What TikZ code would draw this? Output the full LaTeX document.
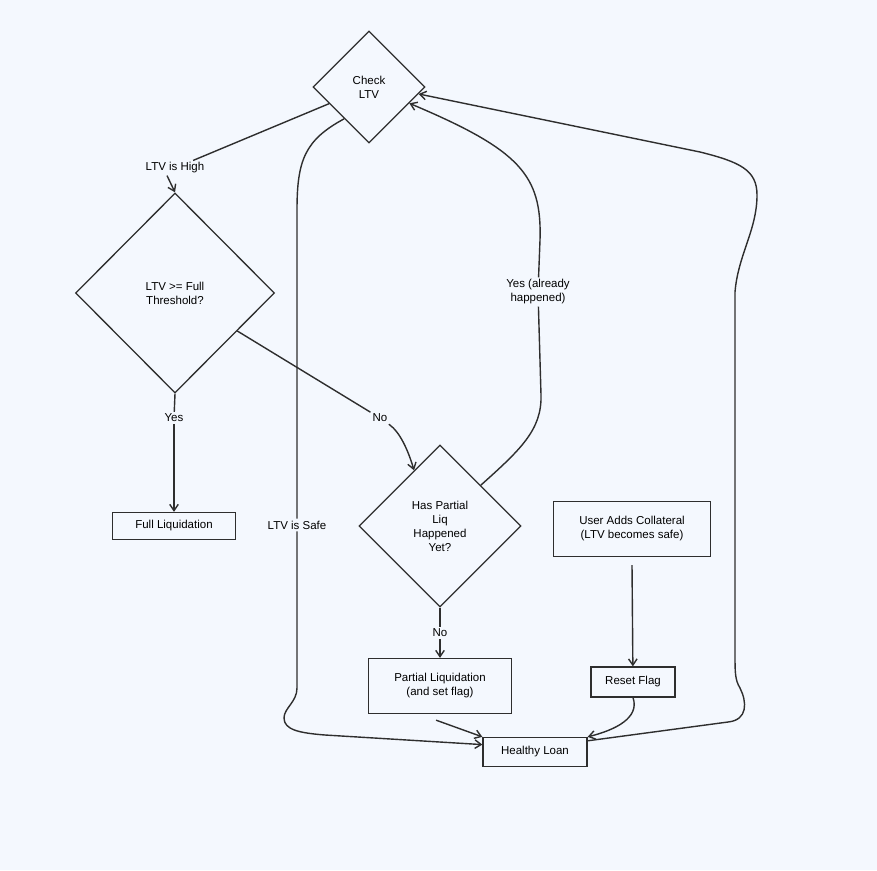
\documentclass[tikz,border=0pt]{standalone}
\usepackage{fontspec}
\setmainfont{Liberation Sans}
\usetikzlibrary{arrows.meta,shapes.geometric}
\definecolor{bgblue}{HTML}{F4F8FE}
\definecolor{ink}{HTML}{2E2E2E}
\tikzset{
  decision/.style={diamond, draw=ink, line width=1.3pt, inner sep=0pt, aspect=1, align=center, font=\fontsize{11.5}{14}\selectfont},
  stepbox/.style={rectangle, draw=ink, line width=1.3pt, inner sep=0pt, align=center, font=\fontsize{11.5}{14}\selectfont},
  lbl/.style={fill=bgblue, inner sep=2pt, align=center, font=\fontsize{11.5}{14}\selectfont},
  link/.style={draw=ink, line width=1.4pt},
  arr/.style={link, -{Straight Barb[length=2.2mm,width=3mm]}}
}
\begin{document}
\begin{tikzpicture}[x=1pt,y=-1pt]
\fill[bgblue] (0,0) rectangle (877,870);
\useasboundingbox (0,0) rectangle (877,870);
\path (369,87) node (check) [decision, minimum width=112pt, minimum height=112pt] {Check\\LTV};
\path (175,293) node (fullq) [decision, minimum width=199pt, minimum height=200pt] {LTV >= Full\\Threshold?};
\path (440,526) node (partq) [decision, minimum width=162pt, minimum height=162pt] {Has Partial\\Liq\\Happened\\Yet?};
\path (174,526) node (fullliq) [stepbox, minimum width=123pt, minimum height=27pt] {Full Liquidation};
\path (632,529) node (useradd) [stepbox, minimum width=157pt, minimum height=55pt] {User Adds Collateral\\(LTV becomes safe)};
\path (440,686) node (partliq) [stepbox, minimum width=143pt, minimum height=55pt] {Partial Liquidation\\(and set flag)};
\path (633,682) node (reset) [stepbox, minimum width=84pt, minimum height=30pt] {Reset Flag};
\path (535,752) node (healthy) [stepbox, minimum width=104pt, minimum height=29pt] {Healthy Loan};
% edge labels
\path (175,168) node (lhigh) [lbl] {LTV is High};
\path (174,418) node (yesfull) [lbl] {Yes};
\path (380,418) node (nofull) [lbl] {No};
\path (440,633) node (nopart) [lbl] {No};
\path (297,525) node (lsafe) [lbl] {LTV is Safe};
\path (538,292) node (yespart) [lbl] {Yes (already\\happened)};
% connectors
\draw[link] (check) -- (lhigh);
\draw[arr] (lhigh.south) ++(-8,0) -- (fullq.north);
\draw[link] (fullq.south) -- (yesfull);
\draw[arr] (yesfull) -- (fullliq);
\draw[link] (fullq) -- (nofull);
\draw[arr] (nofull) .. controls (400,432) and (408,450) .. (partq.115);
\draw[link] (partq.south) -- (nopart);
\draw[arr] (nopart) -- (partliq);
\draw[link] (partq.north east) .. controls (520,450) and (542,430) .. (541,395) -- (yespart);
\draw[arr] (yespart) -- (540,240) .. controls (542,175) and (520,150) .. (check.-22);
\draw[link] (check.232) .. controls (305,140) and (297,160) .. (297,210) -- (lsafe);
\draw[arr] (lsafe) -- (297,688) .. controls (297,702) and (284,708) .. (284,718) .. controls (284,730) and (300,733) .. (325,735) -- (healthy.172);
\draw[arr] (partliq.-98) ++(0,6) -- (healthy.north west);
\draw[arr] (useradd.south) ++(0,8) -- (reset);
\draw[arr] (reset.south) .. controls (640,718) and (615,730) .. (healthy.north east);
\draw[arr] (healthy.12) -- (728,722) .. controls (748,720) and (747,702) .. (740,688) .. controls (735,680) and (735,672) .. (735,655) -- (735,292) .. controls (738,255) and (757,230) .. (757,195) .. controls (757,170) and (740,162) .. (700,152) -- (check.-8);
\end{tikzpicture}
\end{document}
